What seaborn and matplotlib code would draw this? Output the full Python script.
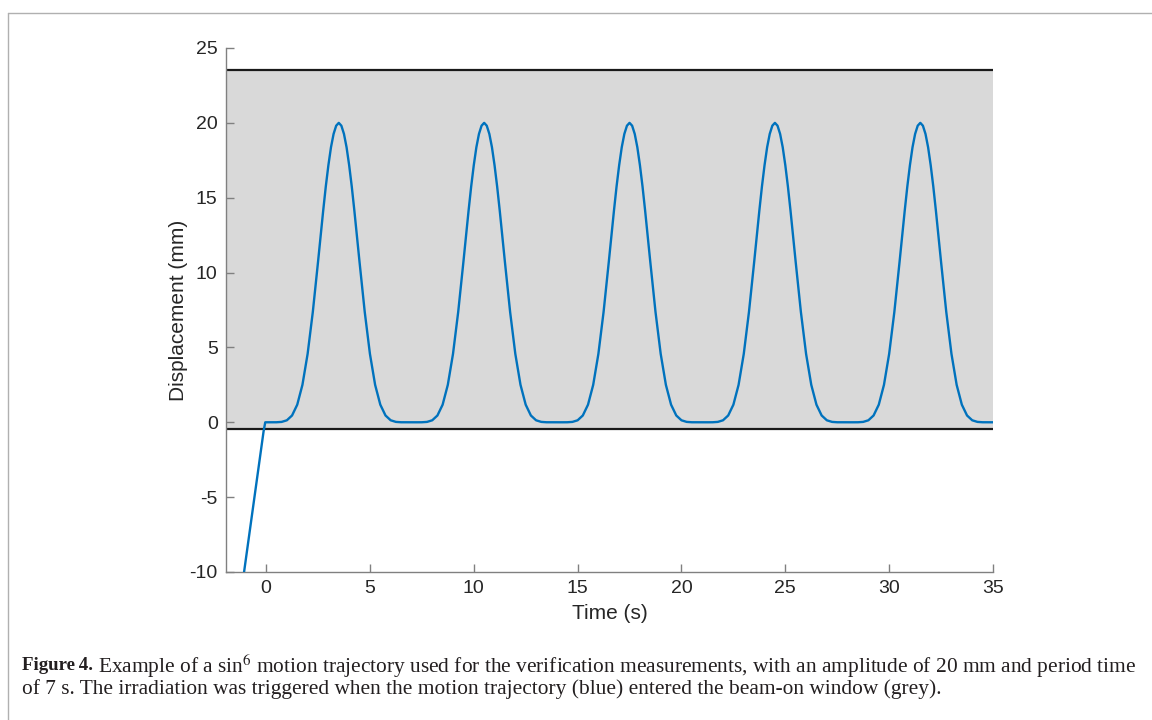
import matplotlib
matplotlib.use("Agg")
import matplotlib.pyplot as plt
import numpy as np
import pandas as pd
import seaborn as sns
from matplotlib.lines import Line2D

# lead-in ramp before the motion starts
ramp_t = [-1.3, -0.12, -0.04]
ramp_disp = [-12.4, -0.6, 0.0]

# one sin^6 cycle (period 7 s, amplitude 20 mm)
cycle_offset = [0, 0.25, 0.5, 0.75, 1.0, 1.25, 1.5, 1.75, 2.0, 2.25, 2.5, 2.75,
                2.875, 3.0, 3.125, 3.25, 3.375, 3.5, 3.625, 3.75, 3.875, 4.0,
                4.125, 4.25, 4.5, 4.75, 5.0, 5.25, 5.5, 5.75, 6.0, 6.25, 6.5, 6.75]
cycle_disp = [0, 0, 0.002, 0.026, 0.133, 0.454, 1.175, 2.5, 4.57, 7.37, 10.70, 14.14,
              15.75, 17.17, 18.37, 19.26, 19.81, 20.0, 19.81, 19.26, 18.37, 17.17,
              15.75, 14.14, 10.70, 7.37, 4.57, 2.5, 1.175, 0.454, 0.133, 0.026, 0.002, 0.0]
cycle_start = [0, 7, 14, 21, 28]
end_t = [35.0]
end_disp = [0.0]

# beam-on window
window_low = -0.45
window_high = 23.5

xticks = [0, 5, 10, 15, 20, 25, 30, 35]
yticks = [-10, -5, 0, 5, 10, 15, 20, 25]

time = list(ramp_t)
disp = list(ramp_disp)
for s in cycle_start:
    time += [s + o for o in cycle_offset]
    disp += cycle_disp
time += end_t
disp += end_disp
df = pd.DataFrame({"Time (s)": time, "Displacement (mm)": disp})

sns.set_theme(style="white")
plt.rcParams["font.family"] = ["Liberation Sans", "DejaVu Sans"]
plt.rcParams["axes.unicode_minus"] = False
plt.rcParams["mathtext.fontset"] = "stix"

fig = plt.figure(figsize=(11.52, 7.2), dpi=100)
ax = fig.add_axes([226 / 1152, 148 / 720, 767 / 1152, 524 / 720])

ax.axhspan(window_low, window_high, color="#d9d9d9", lw=0, zorder=0)
ax.axhline(window_low, color="#1a1a1a", lw=1.6, zorder=2)
ax.axhline(window_high, color="#1a1a1a", lw=1.6, zorder=2)
sns.lineplot(data=df, x="Time (s)", y="Displacement (mm)", ax=ax, color="#0072BD",
             lw=1.7, estimator=None, sort=False, zorder=3)

ax.set_xlim(-1.93, 35)
ax.set_ylim(-10, 25)
ax.set_xticks(xticks)
ax.set_yticks(yticks)
ax.set_xticklabels([str(v) for v in xticks])
ax.set_yticklabels([str(v) for v in yticks])
for side in ["top", "right"]:
    ax.spines[side].set_visible(False)
for side in ["left", "bottom"]:
    ax.spines[side].set_color("#808080")
    ax.spines[side].set_linewidth(1.0)
ax.tick_params(bottom=True, left=True, direction="in", length=6, width=1.0,
               color="#808080", labelsize=14, labelcolor="#262626", pad=6)
ax.set_xlabel("Time (s)", fontsize=15, color="#262626", labelpad=5)
ax.set_ylabel("Displacement (mm)", fontsize=15, color="#262626", labelpad=1)

# page frame lines
fig.add_artist(Line2D([8 / 1152, 1], [1 - 13 / 720, 1 - 13 / 720],
                      transform=fig.transFigure, color="#b0b0b0", lw=1.0))
fig.add_artist(Line2D([8 / 1152, 8 / 1152], [0, 1 - 13 / 720],
                      transform=fig.transFigure, color="#b0b0b0", lw=1.0))

# caption
serif = ["Liberation Serif", "DejaVu Serif"]
cap_size = 15.4
y1 = 1 - 666 / 720
y2 = 1 - 689 / 720
fig.text(22 / 1152, y1, "Figure\u20094.", fontsize=13.6, family=serif,
         fontweight="bold", color="#231f20", va="center")
fig.text(98 / 1152, y1,
         "Example of a sin$^6$ motion trajectory used for the verification measurements, "
         "with an amplitude of 20 mm and period time",
         fontsize=cap_size, family=serif, color="#231f20", va="center")
fig.text(22 / 1152, y2,
         "of 7 s. The irradiation was triggered when the motion trajectory (blue) "
         "entered the beam-on window (grey).",
         fontsize=cap_size, family=serif, color="#231f20", va="center")

fig.savefig("out.png", dpi=100)
